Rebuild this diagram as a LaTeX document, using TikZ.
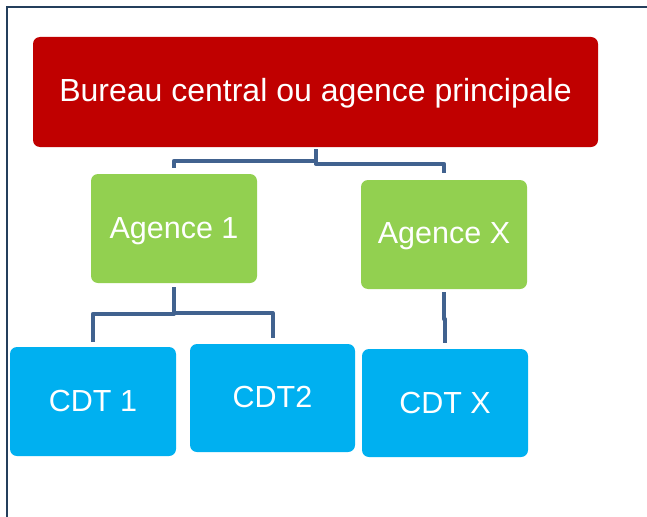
\documentclass[tikz,border=0pt]{standalone}
\usepackage{fontspec}
\setmainfont{Liberation Sans}
\definecolor{redbox}{HTML}{C00000}
\definecolor{greenbox}{HTML}{92D050}
\definecolor{bluebox}{HTML}{00B0F0}
\definecolor{connc}{RGB}{65,98,143}
\definecolor{framec}{HTML}{243F5C}
\begin{document}
\begin{tikzpicture}[x=1pt,y=-1pt,
  box/.style={draw=none, rounded corners=7pt, inner sep=0pt,
    text=white, font=\fontsize{30.5}{36}\selectfont,
    text height=22pt, text depth=0pt, align=center},
  redb/.style={box, fill=redbox, font=\fontsize{32}{38}\selectfont},
  greenb/.style={box, fill=greenbox},
  blueb/.style={box, fill=bluebox},
  conn/.style={draw=connc, line width=4pt, line join=round, shorten <=3pt, shorten >=6pt}
]
\useasboundingbox (0,0) rectangle (647,516);
% frame
\draw[framec, line width=2pt] (7,520) -- (7,7) -- (650,7);
% boxes
\node[redb, minimum width=565pt, minimum height=110pt] (bureau) at (315.5,92) {\raisebox{1.5pt}{Bureau central ou agence principale}};
\node[greenb, minimum width=166pt, minimum height=109pt] (ag1) at (174,228.5) {\raisebox{1.5pt}{Agence 1}};
\node[greenb, minimum width=166pt, minimum height=109pt] (agx) at (444,234.5) {\raisebox{2pt}{Agence X}};
\node[blueb, minimum width=166pt, minimum height=109pt] (cdt1) at (93,401.5) {\raisebox{1pt}{CDT 1}};
\node[blueb, minimum width=165pt, minimum height=108pt] (cdt2) at (272.5,398) {\raisebox{1.5pt}{CDT2}};
\node[blueb, minimum width=166pt, minimum height=108pt] (cdtx) at (445,403) {\raisebox{1pt}{CDT X}};
% connectors
\draw[conn, shorten <=2pt] (bureau.south) |- ([yshift=13pt]ag1.north) -- (ag1.north);
\draw[conn, shorten <=2pt, shorten >=7pt] (bureau.south) |- ([yshift=16pt]agx.north) -- (agx.north);
\draw[conn, shorten <=4pt, shorten >=5pt] (ag1.south) |- ([yshift=33pt]cdt1.north) -- (cdt1.north);
\draw[conn, shorten <=4pt, shorten >=6pt] (ag1.south) |- ([yshift=31pt]cdt2.north) -- (cdt2.north);
\draw[conn, shorten <=3pt, shorten >=6pt] (agx.south) -- ++(0,30) -| (cdtx.north);
\end{tikzpicture}
\end{document}
